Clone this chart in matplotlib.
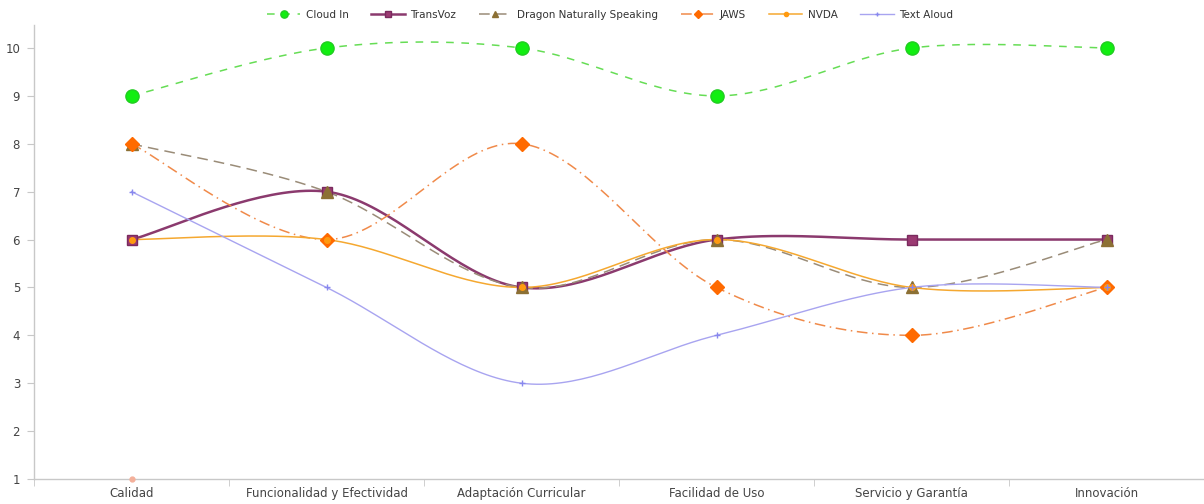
import numpy as np
import matplotlib
matplotlib.use("Agg")
import matplotlib.pyplot as plt

categories = ["Calidad", "Funcionalidad y Efectividad", "Adaptación Curricular",
              "Facilidad de Uso", "Servicio y Garantía", "Innovación"]
cloud_in = [9, 10, 10, 9, 10, 10]
transvoz = [6, 7, 5, 6, 6, 6]
dragon = [8, 7, 5, 6, 5, 6]
jaws = [8, 6, 8, 5, 4, 5]
nvda = [6, 6, 5, 6, 5, 5]
text_aloud = [7, 5, 3, 4, 5, 5]
stray_point = [1]  # small pale point at Calidad, y=1
y_ticks = list(range(1, 11))


def smooth(y, n=40):
    y = np.asarray(y, float)
    x = np.arange(len(y), dtype=float)
    P = np.column_stack([x, y])
    Pe = np.vstack([P[0], P, P[-1]])
    pts = []
    t = np.linspace(0, 1, n)[:, None]
    for i in range(len(P) - 1):
        p0, p3 = Pe[i + 1], Pe[i + 2]
        c1 = p0 + (Pe[i + 2] - Pe[i]) / 6.0
        c2 = p3 - (Pe[i + 3] - Pe[i + 1]) / 6.0
        seg = ((1 - t) ** 3) * p0 + 3 * ((1 - t) ** 2) * t * c1 + 3 * (1 - t) * t ** 2 * c2 + t ** 3 * p3
        pts.append(seg if i == 0 else seg[1:])
    S = np.vstack(pts)
    return S[:, 0], S[:, 1]


fig = plt.figure(figsize=(12.04, 5.04), dpi=100)
ax = fig.add_axes([34 / 1204, 25 / 504, 1170 / 1204, 454 / 504])
xs = np.arange(len(categories))

series = [
    dict(name="Cloud In", y=cloud_in, color="#66dd55", ls=(0, (5, 5)), lw=1.1,
         marker="o", ms=9.5, mfc="#11ee11", mec="#22cc22"),
    dict(name="TransVoz", y=transvoz, color="#8b3a6e", ls="-", lw=1.8,
         marker="s", ms=7, mfc="#9b3a72", mec="#7a2a5e"),
    dict(name="Dragon Naturally Speaking", y=dragon, color="#9a8c78", ls=(0, (7, 4)), lw=1.1,
         marker="^", ms=9, mfc="#8c7034", mec="#8c7034"),
    dict(name="JAWS", y=jaws, color="#f08a4a", ls=(0, (7, 3, 1, 3)), lw=1.1,
         marker="D", ms=7, mfc="#ff6a00", mec="#ff6a00"),
    dict(name="NVDA", y=nvda, color="#f5a830", ls="-", lw=1.1,
         marker="o", ms=4, mfc="#ff9a10", mec="#ff9a10"),
    dict(name="Text Aloud", y=text_aloud, color="#a8a4f0", ls="-", lw=1.0,
         marker="+", ms=5, mfc="#8888ee", mec="#8888ee"),
]

handles = []
for s in series:
    sx, sy = smooth(s["y"])
    ax.plot(sx, sy, color=s["color"], ls=s["ls"], lw=s["lw"], zorder=2)
    ax.plot(xs, s["y"], ls="none", marker=s["marker"], ms=s["ms"],
            mfc=s["mfc"], mec=s["mec"], mew=1.0, zorder=3)
    h, = ax.plot([], [], color=s["color"], ls=s["ls"], lw=s["lw"], marker=s["marker"],
                 ms=max(3, s["ms"] * 0.55), mfc=s["mfc"], mec=s["mec"], label=s["name"])
    handles.append(h)

ax.plot(xs[:len(stray_point)], stray_point, ls="none", marker="o", ms=3.5,
        mfc="#f4b09a", mec="#f4b09a", zorder=3, clip_on=False)

ax.set_xlim(-0.5, len(categories) - 0.5)
ax.set_ylim(1, 10.48)
ax.set_yticks(y_ticks)
ax.set_xticks(xs)
ax.set_xticklabels(categories)
ax.set_xticks(np.arange(-0.5, len(categories)), minor=True)
ax.tick_params(axis="x", which="major", length=0, pad=6, labelsize=8.5, labelcolor="#444444")
ax.tick_params(axis="x", which="minor", length=5, color="#c8c8c8", direction="out")
ax.tick_params(axis="y", length=5, color="#c8c8c8", labelsize=8.5, labelcolor="#444444", pad=5)
for side in ["top", "right"]:
    ax.spines[side].set_visible(False)
for side in ["left", "bottom"]:
    ax.spines[side].set_color("#c8c8c8")
    ax.spines[side].set_linewidth(1.0)

fig.legend(handles=handles, loc="center", bbox_to_anchor=(610 / 1204, 1 - 15 / 504),
           ncol=6, frameon=False, fontsize=7.5, handlelength=3.2, columnspacing=2.2,
           handletextpad=0.5, labelcolor="#333333")

fig.savefig("out.png", dpi=100, facecolor="white")
